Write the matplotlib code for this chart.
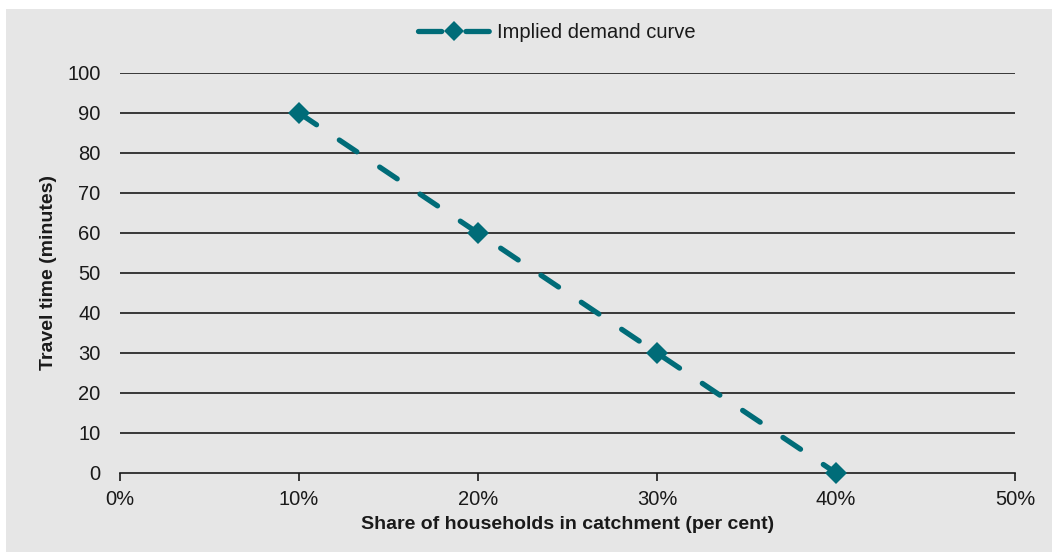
import matplotlib
matplotlib.use("Agg")
import matplotlib.pyplot as plt
from matplotlib.patches import Rectangle
from matplotlib.lines import Line2D
from matplotlib.ticker import FuncFormatter

# Demand curve: share of households vs travel time
share_pct = [10, 20, 30, 40]
travel_minutes = [90, 60, 30, 0]
x_ticks = [0, 10, 20, 30, 40, 50]
y_ticks = [0, 10, 20, 30, 40, 50, 60, 70, 80, 90, 100]

series_label = "Implied demand curve"
x_label = "Share of households in catchment (per cent)"
y_label = "Travel time (minutes)"

teal = "#006C78"
panel = "#E6E6E6"
ink = "#1a1a1a"

plt.rcParams["font.family"] = ["Liberation Sans", "DejaVu Sans"]

W, H = 1052, 552
fig = plt.figure(figsize=(W / 100, H / 100), dpi=100, facecolor="white")
fig.patches.append(Rectangle((6 / W, 0), 1 - 6 / W, 1 - 9 / H,
                             transform=fig.transFigure, facecolor=panel,
                             edgecolor="none", zorder=-10))

ax = fig.add_axes([120 / W, 79 / H, (1015 - 120) / W, (473 - 73) / H])
ax.patch.set_alpha(0)

ax.set_xlim(0, 50)
ax.set_ylim(0, 100)
ax.set_xticks(x_ticks)
ax.set_yticks(y_ticks)
ax.xaxis.set_major_formatter(FuncFormatter(lambda v, p: f"{v:.0f}%"))

for y in y_ticks[1:]:
    ax.axhline(y, color=ink, lw=1.2, zorder=1)

for s in ("top", "right", "left"):
    ax.spines[s].set_visible(False)
ax.spines["bottom"].set_color(ink)
ax.spines["bottom"].set_linewidth(1.2)

ax.tick_params(axis="x", direction="out", length=6, width=1.2, color=ink,
               labelsize=14.5, pad=6, labelcolor=ink)
ax.tick_params(axis="y", length=0, labelsize=14.5, pad=14, labelcolor=ink)

line, = ax.plot(share_pct, travel_minutes, color=teal, lw=3.8,
                dash_capstyle="round", marker="D", markersize=11.5,
                markeredgewidth=0, zorder=3, clip_on=False)
line.set_dashes([4.0, 5.2])

ax.set_xlabel(x_label, fontsize=14, fontweight="bold", labelpad=5, color=ink)
ax.set_ylabel(y_label, fontsize=14, fontweight="bold", labelpad=7, color=ink)

# Legend key: dash, diamond, dash
key = Line2D([], [], color=teal, lw=3.8, dash_capstyle="round", marker="D",
             markersize=10, markeredgewidth=0, label=series_label)
key.set_dashes([4.4, 4.6])

fig.legend(handles=[key], loc="center", bbox_to_anchor=(557 / W, 1 - 33 / H),
           frameon=False, fontsize=14.5, handlelength=3.6, handletextpad=0.35,
           labelcolor=ink, numpoints=1)

fig.savefig("out.png", dpi=100, facecolor="white")
